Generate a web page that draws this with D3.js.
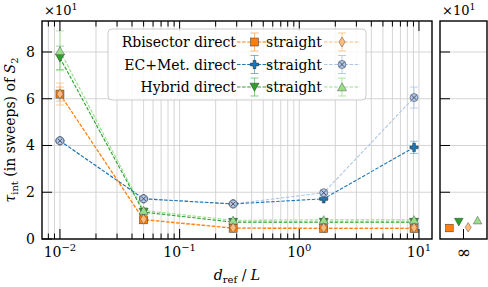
<!DOCTYPE html>
<html>
<head>
<meta charset="utf-8">
<script src="https://cdn.jsdelivr.net/npm/d3@7"></script>
<style>
  body { margin: 0; background: #fff; }
  svg { display: block; }
  text { font-family: "DejaVu Serif", serif; fill: #000; }
</style>
</head>
<body>
<div id="chart-area"></div>
<script>
// tau_int vs d_ref / L, values in units of 10
var dRef = [0.01, 0.05, 0.28, 1.6, 9.1];

var rbDirect = [6.2, 0.82, 0.46, 0.45, 0.45];
var rbDirectErr = [0.3, 0.06, 0.03, 0.03, 0.03];
var rbStraight = [6.2, 0.85, 0.48, 0.48, 0.48];
var rbStraightErr = [0.47, 0.07, 0.04, 0.04, 0.04];

var ecDirect = [4.2, 1.72, 1.5, 1.72, 3.92];
var ecDirectErr = [0.1, 0.08, 0.06, 0.08, 0.26];
var ecStraight = [4.2, 1.72, 1.5, 1.98, 6.05];
var ecStraightErr = [0.1, 0.08, 0.06, 0.1, 0.45];

var hyDirect = [7.75, 1.15, 0.72, 0.72, 0.72];
var hyDirectErr = [0.5, 0.1, 0.05, 0.05, 0.05];
var hyStraight = [8.05, 1.22, 0.8, 0.82, 0.82];
var hyStraightErr = [0.85, 0.12, 0.06, 0.06, 0.06];

// d_ref = infinity panel
var infSeries = ["rbDirect", "hyDirect", "rbStraight", "hyStraight"];
var infOffset = [-0.6, -0.2, 0.2, 0.6];
var infValue = [0.47, 0.73, 0.5, 0.8];

var yTicks = [0, 2, 4, 6, 8];
var xTicks = [0.01, 0.1, 1, 10];
var xTickLabels = ["\u22122", "\u22121", "0", "1"];

var series = [
    {key: "rbDirect", y: rbDirect, err: rbDirectErr, color: "#ff7f0e", eop: 0.45, marker: "square"},
    {key: "rbStraight", y: rbStraight, err: rbStraightErr, color: "#ffbb78", eop: 0.7, marker: "diamond"},
    {key: "ecDirect", y: ecDirect, err: ecDirectErr, color: "#1f77b4", eop: 0.45, marker: "plus"},
    {key: "ecStraight", y: ecStraight, err: ecStraightErr, color: "#aec7e8", eop: 0.8, marker: "xcircle"},
    {key: "hyDirect", y: hyDirect, err: hyDirectErr, color: "#2ca02c", eop: 0.45, marker: "tridown"},
    {key: "hyStraight", y: hyStraight, err: hyStraightErr, color: "#98df8a", eop: 0.7, marker: "triup"}
];
var byKey = {};
series.forEach(function(s) { byKey[s.key] = s; });

var legendRows = [
    ["Rbisector direct", "rbDirect", "rbStraight"],
    ["EC+Met. direct", "ecDirect", "ecStraight"],
    ["Hybrid direct", "hyDirect", "hyStraight"]
];

var W = 488, H = 287;
var main = {left: 42, right: 432, top: 21, bottom: 239};
var side = {left: 440, right: 487};

var svg = d3.select("#chart-area").append("svg")
    .attr("width", W)
    .attr("height", H);

var x = d3.scaleLog().domain([Math.pow(10, -2.15), Math.pow(10, 1.109)]).range([main.left, main.right]);
var y = d3.scaleLinear().domain([0, 9.326]).range([main.bottom, main.top]);
var xInf = d3.scaleLinear().domain([-1, 1]).range([side.left, side.right]);

// minor ticks on the log axis
var minorTicks = [];
for (var e = -3; e <= 1; e++) {
    for (var m = 1; m <= 9; m++) {
        var v = m * Math.pow(10, e);
        if (v >= x.domain()[0] && v <= x.domain()[1]) minorTicks.push(v);
    }
}

// grid
var grid = svg.append("g");
grid.selectAll(".vg").data(minorTicks).enter().append("line")
    .attr("x1", function(d) { return x(d); }).attr("x2", function(d) { return x(d); })
    .attr("y1", main.top).attr("y2", main.bottom)
    .attr("stroke", "#d0d0d0").attr("stroke-width", 0.9);
grid.selectAll(".hg").data(yTicks).enter().append("line")
    .attr("x1", main.left).attr("x2", main.right)
    .attr("y1", function(d) { return y(d); }).attr("y2", function(d) { return y(d); })
    .attr("stroke", "#d0d0d0").attr("stroke-width", 0.9);
grid.selectAll(".hg2").data(yTicks).enter().append("line")
    .attr("x1", side.left).attr("x2", side.right)
    .attr("y1", function(d) { return y(d); }).attr("y2", function(d) { return y(d); })
    .attr("stroke", "#d0d0d0").attr("stroke-width", 0.9);

function drawMarker(sel, type, color, size) {
    var s = size || 1;
    if (type === "square") {
        sel.append("rect").attr("x", -4 * s).attr("y", -4 * s).attr("width", 8 * s).attr("height", 8 * s)
            .attr("fill", color).attr("stroke", "#333").attr("stroke-width", 0.5);
    } else if (type === "diamond") {
        sel.append("path").attr("d", "M0," + (-5 * s) + "L" + (3.2 * s) + ",0L0," + (5 * s) + "L" + (-3.2 * s) + ",0Z")
            .attr("fill", color).attr("stroke", "#555").attr("stroke-width", 0.5);
    } else if (type === "plus") {
        sel.append("path").attr("d", d3.symbol(d3.symbolCross, 38 * s * s))
            .attr("fill", color).attr("stroke", "#222").attr("stroke-width", 0.5);
    } else if (type === "xcircle") {
        sel.append("circle").attr("r", 4 * s).attr("fill", color).attr("stroke", "#445").attr("stroke-width", 0.6);
        var k = 2.3 * s;
        sel.append("path").attr("d", "M" + (-k) + "," + (-k) + "L" + k + "," + k + "M" + (-k) + "," + k + "L" + k + "," + (-k))
            .attr("stroke", "#445").attr("stroke-width", 0.9);
    } else if (type === "tridown") {
        sel.append("path").attr("d", "M" + (-4.5 * s) + "," + (-3.8 * s) + "L" + (4.5 * s) + "," + (-3.8 * s) + "L0," + (4.2 * s) + "Z")
            .attr("fill", color).attr("stroke", "#333").attr("stroke-width", 0.5);
    } else if (type === "triup") {
        sel.append("path").attr("d", "M" + (-4.5 * s) + "," + (3.8 * s) + "L" + (4.5 * s) + "," + (3.8 * s) + "L0," + (-4.2 * s) + "Z")
            .attr("fill", color).attr("stroke", "#555").attr("stroke-width", 0.5);
    }
}

// lines
var line = d3.line().x(function(d) { return x(d[0]); }).y(function(d) { return y(d[1]); });
var lineOrder = ["ecStraight", "hyStraight", "rbStraight", "ecDirect", "hyDirect", "rbDirect"];
lineOrder.forEach(function(k) {
    var s = byKey[k];
    svg.append("path")
        .datum(dRef.map(function(d, i) { return [d, s.y[i]]; }))
        .attr("d", line)
        .attr("fill", "none")
        .attr("stroke", s.color)
        .attr("stroke-width", 1.1)
        .attr("stroke-dasharray", "3.5,1.6");
});

// error bars
series.forEach(function(s) {
    var eg = svg.append("g").attr("stroke", s.color).attr("stroke-opacity", s.eop).attr("stroke-width", 1);
    dRef.forEach(function(d, i) {
        var cx = x(d), y0 = y(s.y[i] - s.err[i]), y1 = y(s.y[i] + s.err[i]);
        eg.append("line").attr("x1", cx).attr("x2", cx).attr("y1", y0).attr("y2", y1);
        eg.append("line").attr("x1", cx - 4).attr("x2", cx + 4).attr("y1", y0).attr("y2", y0);
        eg.append("line").attr("x1", cx - 4).attr("x2", cx + 4).attr("y1", y1).attr("y2", y1);
    });
});

// markers (straight drawn over direct)
var markerOrder = ["ecDirect", "ecStraight", "hyDirect", "hyStraight", "rbDirect", "rbStraight"];
markerOrder.forEach(function(k) {
    var s = byKey[k];
    dRef.forEach(function(d, i) {
        var mg = svg.append("g").attr("transform", "translate(" + x(d) + "," + y(s.y[i]) + ")");
        drawMarker(mg, s.marker, s.color);
    });
});

// infinity panel markers
infSeries.forEach(function(k, i) {
    var s = byKey[k];
    var mg = svg.append("g").attr("transform", "translate(" + xInf(infOffset[i]) + "," + y(infValue[i]) + ")");
    drawMarker(mg, s.marker, s.color, 0.95);
});

// ticks (inward)
var tk = svg.append("g").attr("stroke", "#000").attr("stroke-width", 1);
xTicks.forEach(function(d) {
    tk.append("line").attr("x1", x(d)).attr("x2", x(d)).attr("y1", main.bottom).attr("y2", main.bottom - 10);
    tk.append("line").attr("x1", x(d)).attr("x2", x(d)).attr("y1", main.top).attr("y2", main.top + 10);
});
minorTicks.filter(function(d) { return Math.abs(Math.log10(d) - Math.round(Math.log10(d))) > 1e-9; })
    .forEach(function(d) {
        tk.append("line").attr("x1", x(d)).attr("x2", x(d)).attr("y1", main.bottom).attr("y2", main.bottom - 5.5);
        tk.append("line").attr("x1", x(d)).attr("x2", x(d)).attr("y1", main.top).attr("y2", main.top + 5.5);
    });
yTicks.forEach(function(d) {
    tk.append("line").attr("x1", main.left).attr("x2", main.left + 10).attr("y1", y(d)).attr("y2", y(d));
    if (d > 0) tk.append("line").attr("x1", side.left).attr("x2", side.left + 10).attr("y1", y(d)).attr("y2", y(d));
});
tk.append("line").attr("x1", xInf(0)).attr("x2", xInf(0)).attr("y1", main.bottom).attr("y2", main.bottom - 10);

// frames
svg.append("rect").attr("x", main.left).attr("y", main.top)
    .attr("width", main.right - main.left).attr("height", main.bottom - main.top)
    .attr("fill", "none").attr("stroke", "#000").attr("stroke-width", 1.4);
svg.append("rect").attr("x", side.left).attr("y", main.top)
    .attr("width", side.right - side.left).attr("height", main.bottom - main.top)
    .attr("fill", "none").attr("stroke", "#000").attr("stroke-width", 1.4);

// tick labels
var fs = 14;
yTicks.forEach(function(d) {
    svg.append("text").attr("x", 35).attr("y", y(d) + 5).attr("text-anchor", "end")
        .attr("font-size", fs).text(d);
});
xTicks.forEach(function(d, i) {
    var t = svg.append("text").attr("x", x(d)).attr("y", 257).attr("text-anchor", "middle").attr("font-size", fs);
    t.append("tspan").text("10");
    t.append("tspan").attr("dy", -6).attr("font-size", 10).text(xTickLabels[i]);
});
svg.append("text").attr("x", xInf(0)).attr("y", 258).attr("text-anchor", "middle")
    .attr("font-size", 17).text("\u221e");

// offset labels
[main.left + 2, side.left + 2].forEach(function(px) {
    var t = svg.append("text").attr("x", px).attr("y", 15).attr("font-size", 13);
    t.append("tspan").text("\u00d710");
    t.append("tspan").attr("dy", -5).attr("font-size", 9.5).text("1");
});

// axis labels
var xl = svg.append("text").attr("x", (main.left + main.right) / 2).attr("y", 280)
    .attr("text-anchor", "middle").attr("font-size", fs);
xl.append("tspan").attr("font-style", "italic").text("d");
xl.append("tspan").attr("dy", 3).attr("font-size", 10).text("ref");
xl.append("tspan").attr("dy", -3).text(" / ");
xl.append("tspan").attr("font-style", "italic").text("L");

var yl = svg.append("text")
    .attr("transform", "translate(15," + ((main.top + main.bottom) / 2) + ") rotate(-90)")
    .attr("text-anchor", "middle").attr("font-size", fs);
yl.append("tspan").attr("font-style", "italic").text("\u03c4");
yl.append("tspan").attr("dy", 3).attr("font-size", 10).text("int");
yl.append("tspan").attr("dy", -3).text(" (in sweeps) of ");
yl.append("tspan").attr("font-style", "italic").text("S");
yl.append("tspan").attr("dy", 3).attr("font-size", 10).text("2");

// legend
var lg = svg.append("g");
lg.append("rect").attr("x", 108).attr("y", 29).attr("width", 258).attr("height", 71)
    .attr("rx", 4).attr("fill", "#fff").attr("fill-opacity", 0.85)
    .attr("stroke", "#cccccc").attr("stroke-width", 1);
var rowY = [42, 64.5, 87];
var handleX = [[237, 272], [324, 360]];
legendRows.forEach(function(row, r) {
    var cy = rowY[r];
    lg.append("text").attr("x", 236).attr("y", cy + 5).attr("text-anchor", "end").attr("font-size", fs).text(row[0]);
    lg.append("text").attr("x", 322).attr("y", cy + 5).attr("text-anchor", "end").attr("font-size", fs).text("straight");
    [row[1], row[2]].forEach(function(k, c) {
        var s = byKey[k];
        var x0 = handleX[c][0], x1 = handleX[c][1], cx = (x0 + x1) / 2;
        lg.append("line").attr("x1", x0).attr("x2", x1).attr("y1", cy).attr("y2", cy)
            .attr("stroke", s.color).attr("stroke-width", 1.1).attr("stroke-dasharray", "3.5,1.6");
        var eg = lg.append("g").attr("stroke", s.color).attr("stroke-opacity", s.eop + 0.1);
        eg.append("line").attr("x1", cx).attr("x2", cx).attr("y1", cy - 9).attr("y2", cy + 9);
        eg.append("line").attr("x1", cx - 4).attr("x2", cx + 4).attr("y1", cy - 9).attr("y2", cy - 9);
        eg.append("line").attr("x1", cx - 4).attr("x2", cx + 4).attr("y1", cy + 9).attr("y2", cy + 9);
        drawMarker(lg.append("g").attr("transform", "translate(" + cx + "," + cy + ")"), s.marker, s.color);
    });
});
</script>
</body>
</html>
